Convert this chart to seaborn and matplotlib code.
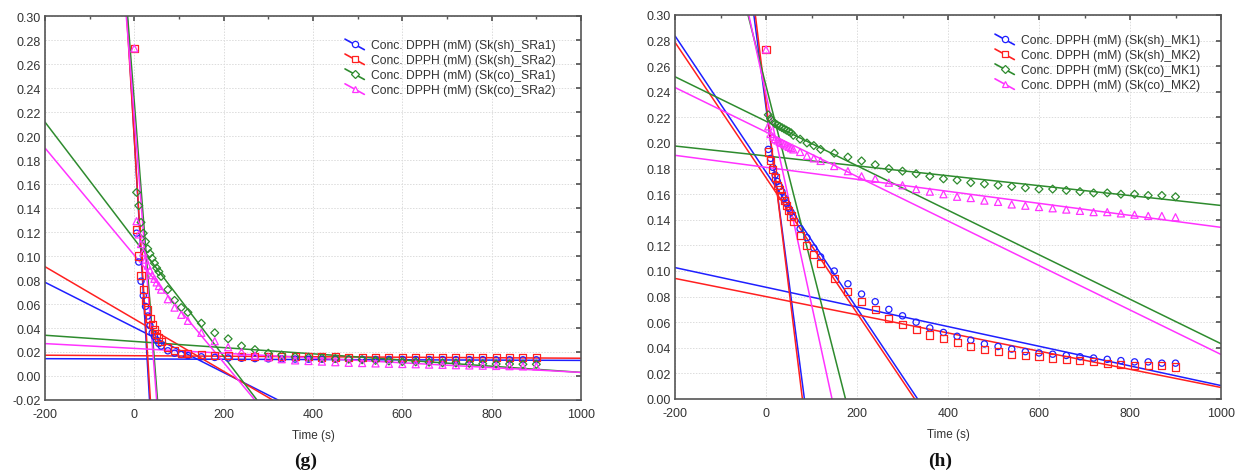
import numpy as np
import pandas as pd
import matplotlib
matplotlib.use("Agg")
import matplotlib.pyplot as plt
from matplotlib.lines import Line2D
from matplotlib.legend_handler import HandlerBase
from matplotlib.ticker import MultipleLocator, FormatStrFormatter
import seaborn as sns

# ---------------- data ----------------
times = [0, 5, 10, 15, 20, 25, 30, 35, 40, 45, 50, 55, 60, 75, 90, 105, 120,
         150, 180, 210, 240, 270, 300, 330, 360, 390, 420, 450, 480, 510, 540,
         570, 600, 630, 660, 690, 720, 750, 780, 810, 840, 870, 900]

nan = np.nan
# panel (g)
g_sh_sra1 = [nan, 0.119, 0.095, 0.079, 0.067, 0.058, 0.050, 0.042, 0.036, 0.033, 0.030, 0.027, 0.025,
             0.021, 0.019, 0.018, 0.017, 0.016, 0.0155, 0.015, 0.0148, 0.0145, 0.0143, 0.0142, 0.0141,
             0.014, 0.014, 0.014, 0.0139, 0.0139, 0.0138, 0.0138, 0.0138, 0.0137, 0.0137, 0.0137,
             0.0136, 0.0136, 0.0136, 0.0135, 0.0135, 0.0135, 0.0135]
g_sh_sra2 = [0.273, 0.122, 0.100, 0.084, 0.072, 0.063, 0.055, 0.048, 0.043, 0.039, 0.035, 0.032, 0.029,
             0.024, 0.021, 0.019, 0.0185, 0.018, 0.017, 0.0168, 0.0165, 0.0163, 0.0162, 0.016, 0.016,
             0.016, 0.0158, 0.0158, 0.0157, 0.0157, 0.0156, 0.0156, 0.0156, 0.0155, 0.0155, 0.0155,
             0.0155, 0.0155, 0.0155, 0.0155, 0.0155, 0.0155, 0.0155]
g_co_sra1 = [nan, 0.153, 0.142, 0.128, 0.119, 0.112, 0.106, 0.102, 0.098, 0.094, 0.090, 0.087, 0.083,
             0.072, 0.063, 0.057, 0.053, 0.044, 0.036, 0.031, 0.025, 0.022, 0.019, 0.0175, 0.016,
             0.0155, 0.015, 0.0145, 0.014, 0.0135, 0.013, 0.0125, 0.012, 0.0118, 0.0115, 0.011,
             0.0108, 0.0105, 0.0102, 0.010, 0.010, 0.0098, 0.0098]
g_co_sra2 = [0.273, 0.129, 0.118, 0.110, 0.103, 0.097, 0.092, 0.088, 0.084, 0.081, 0.078, 0.075, 0.072,
             0.064, 0.057, 0.051, 0.046, 0.036, 0.029, 0.024, 0.020, 0.017, 0.0155, 0.014, 0.013,
             0.0125, 0.012, 0.0115, 0.011, 0.0108, 0.0105, 0.0102, 0.010, 0.0098, 0.0095, 0.0093,
             0.009, 0.0088, 0.0086, 0.0084, 0.0082, 0.008, 0.008]
# panel (h)
h_sh_mk1 = [nan, 0.195, 0.188, 0.181, 0.175, 0.170, 0.166, 0.162, 0.157, 0.153, 0.149, 0.146, 0.142,
            0.133, 0.126, 0.118, 0.111, 0.100, 0.090, 0.082, 0.076, 0.070, 0.065, 0.060, 0.0555,
            0.052, 0.049, 0.046, 0.043, 0.041, 0.039, 0.037, 0.036, 0.035, 0.034, 0.033, 0.032,
            0.031, 0.030, 0.029, 0.029, 0.028, 0.028]
h_sh_mk2 = [0.273, 0.193, 0.186, 0.179, 0.173, 0.167, 0.164, 0.159, 0.155, 0.151, 0.147, 0.143, 0.139,
            0.128, 0.120, 0.113, 0.106, 0.094, 0.084, 0.076, 0.070, 0.063, 0.058, 0.054, 0.050,
            0.047, 0.044, 0.041, 0.039, 0.037, 0.035, 0.034, 0.033, 0.032, 0.031, 0.030, 0.029,
            0.028, 0.027, 0.026, 0.026, 0.026, 0.025]
h_co_mk1 = [nan, 0.222, 0.219, 0.217, 0.215, 0.214, 0.213, 0.212, 0.211, 0.210, 0.209, 0.208, 0.206,
            0.203, 0.200, 0.198, 0.195, 0.192, 0.189, 0.186, 0.183, 0.180, 0.178, 0.176, 0.174,
            0.172, 0.171, 0.169, 0.168, 0.167, 0.166, 0.165, 0.164, 0.164, 0.163, 0.162, 0.161,
            0.161, 0.160, 0.160, 0.159, 0.159, 0.158]
h_co_mk2 = [0.273, 0.213, 0.207, 0.205, 0.203, 0.202, 0.201, 0.200, 0.199, 0.198, 0.197, 0.196, 0.195,
            0.193, 0.190, 0.188, 0.186, 0.182, 0.178, 0.174, 0.172, 0.169, 0.167, 0.164, 0.162,
            0.160, 0.158, 0.157, 0.155, 0.154, 0.152, 0.151, 0.150, 0.149, 0.148, 0.147, 0.146,
            0.146, 0.145, 0.144, 0.143, 0.143, 0.142]

# linear fits (intercept at t=0, slope) : steep, medium, flat
g_fit_intercepts = {
    "sh_SRa1": [0.1976, 0.0405, 0.0142],
    "sh_SRa2": [0.197, 0.0475, 0.0169],
    "co_SRa1": [0.228, 0.114, 0.0288],
    "co_SRa2": [0.215, 0.1006, 0.023],
}
g_fit_slopes = {
    "sh_SRa1": [-0.0064, -0.000188, -0.0000012],
    "sh_SRa2": [-0.00604, -0.000218, -0.0000021],
    "co_SRa1": [-0.00478, -0.000488, -0.0000258],
    "co_SRa2": [-0.0047, -0.000447, -0.00002],
}
h_fit_intercepts = {
    "sh_MK1": [0.228, 0.1773, 0.0873],
    "sh_MK2": [0.232, 0.1729, 0.080],
    "co_MK1": [0.2447, 0.217, 0.1899],
    "co_MK2": [0.238, 0.2086, 0.181],
}
h_fit_slopes = {
    "sh_MK1": [-0.0027, -0.000532, -0.0000768],
    "sh_MK2": [-0.0029, -0.000529, -0.000071],
    "co_MK1": [-0.0014, -0.0001738, -0.0000387],
    "co_MK2": [-0.00164, -0.0001738, -0.0000469],
}

g_labels = ["Conc. DPPH (mM) (Sk(sh)_SRa1)", "Conc. DPPH (mM) (Sk(sh)_SRa2)",
            "Conc. DPPH (mM) (Sk(co)_SRa1)", "Conc. DPPH (mM) (Sk(co)_SRa2)"]
h_labels = ["Conc. DPPH (mM) (Sk(sh)_MK1)", "Conc. DPPH (mM) (Sk(sh)_MK2)",
            "Conc. DPPH (mM) (Sk(co)_MK1)", "Conc. DPPH (mM) (Sk(co)_MK2)"]
x_ticks = [-200, 0, 200, 400, 600, 800, 1000]

# ---------------- styles ----------------
colors = ["#1f1fff", "#ff2020", "#2e8b2e", "#ff33ff"]
markers = ["o", "s", "D", "^"]
msizes = [20, 26, 16, 26]

sns.set_theme(style="white")
plt.rcParams["font.family"] = ["Liberation Sans", "DejaVu Sans"]
plt.rcParams["axes.unicode_minus"] = False

fig = plt.figure(figsize=(12.39, 4.77), dpi=100)
ax1 = fig.add_axes([45 / 1239, 1 - 401 / 477, 536 / 1239, 384 / 477])
ax2 = fig.add_axes([675 / 1239, 1 - 400 / 477, 546 / 1239, 384 / 477])


class DiagHandler(HandlerBase):
    def create_artists(self, legend, orig_handle, xdescent, ydescent, width, height, fontsize, trans):
        x0, x1 = -xdescent, -xdescent + width
        y0, y1 = -ydescent + height * 1.05, -ydescent - height * 0.2
        c = orig_handle.get_color()
        ln = Line2D([x0, x1], [y0, y1], color=c, lw=1.2)
        mk = Line2D([(x0 + x1) / 2], [(y0 + y1) / 2], marker=orig_handle.get_marker(),
                    markersize=4.5, mfc="white", mec=c, mew=0.9, ls="none")
        ln.set_transform(trans)
        mk.set_transform(trans)
        return [ln, mk]


def draw_panel(ax, series, intercepts, slopes, labels, ylim, yticks, leg_anchor):
    keys = list(intercepts.keys())
    for i, (vals, key) in enumerate(zip(series, keys)):
        df = pd.DataFrame({"t": times, "c": vals}).dropna()
        for b, m in zip(intercepts[key], slopes[key]):
            ax.axline((0, b), slope=m, color=colors[i], lw=1.1, zorder=2)
        sns.scatterplot(data=df, x="t", y="c", marker=markers[i], s=msizes[i],
                        color=colors[i], facecolor="none", edgecolor=colors[i],
                        linewidth=0.9, ax=ax, zorder=3)
    ax.set_xlim(-200, 1000)
    ax.set_ylim(*ylim)
    ax.set_xticks(x_ticks)
    ax.set_yticks(yticks)
    ax.xaxis.set_minor_locator(MultipleLocator(100))
    ax.yaxis.set_major_formatter(FormatStrFormatter("%.2f"))
    ax.grid(True, which="major", color="#dcdcdc", linestyle=(0, (1.5, 1.5)), linewidth=0.7)
    ax.tick_params(axis="both", which="both", direction="in", top=True, right=True,
                   labelsize=9, labelcolor="#333333", color="#555555")
    ax.tick_params(axis="x", which="both", pad=6)
    ax.tick_params(axis="y", which="both", pad=3)
    ax.tick_params(which="major", length=3.5)
    ax.tick_params(which="minor", length=2.5)
    for s in ax.spines.values():
        s.set_color("#555555")
        s.set_linewidth(1.2)
    ax.set_xlabel("Time (s)", fontsize=8.5, color="#333333", labelpad=6)
    ax.set_ylabel("")
    handles = [Line2D([], [], color=colors[i], marker=markers[i]) for i in range(4)]
    ax.legend(handles, labels, handler_map={Line2D: DiagHandler()},
              loc="upper left", bbox_to_anchor=leg_anchor, bbox_transform=fig.transFigure,
              frameon=False, fontsize=8.7, labelcolor="#333333", borderpad=0,
              handlelength=1.6, handletextpad=0.55, labelspacing=0.24, borderaxespad=0)


draw_panel(ax1, [g_sh_sra1, g_sh_sra2, g_co_sra1, g_co_sra2], g_fit_intercepts, g_fit_slopes,
           g_labels, (-0.02, 0.30), np.arange(-0.02, 0.301, 0.02), (345 / 1239, 1 - 40 / 477))
draw_panel(ax2, [h_sh_mk1, h_sh_mk2, h_co_mk1, h_co_mk2], h_fit_intercepts, h_fit_slopes,
           h_labels, (0.0, 0.30), np.arange(0.0, 0.301, 0.02), (995 / 1239, 1 - 35 / 477))

fig.text(306 / 1239, 1 - 461 / 477, "(g)", ha="center", va="center", fontsize=14,
         family=["Liberation Serif", "DejaVu Serif"], fontweight="bold", color="#111111")
fig.text(940 / 1239, 1 - 461 / 477, "(h)", ha="center", va="center", fontsize=14,
         family=["Liberation Serif", "DejaVu Serif"], fontweight="bold", color="#111111")

fig.savefig("out.png", dpi=100, facecolor="white")
